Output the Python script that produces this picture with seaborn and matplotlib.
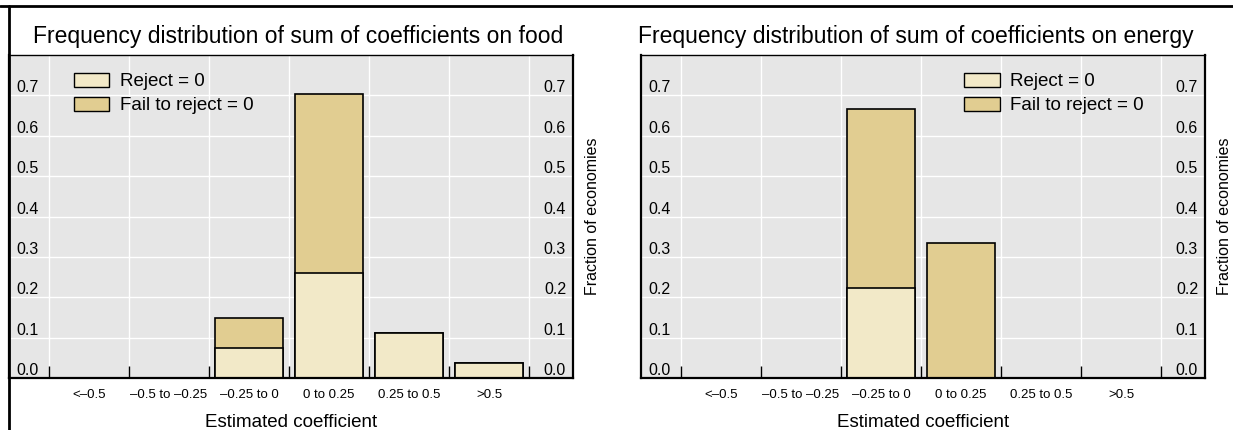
import numpy as np
import pandas as pd
import seaborn as sns
import matplotlib.pyplot as plt
from matplotlib.patches import Patch
from matplotlib.lines import Line2D

# categories and fractions of economies (27 economies)
categories = ['<\u20130.5', '\u20130.5 to \u20130.25', '\u20130.25 to 0', '0 to 0.25', '0.25 to 0.5', '>0.5']
food_reject = [0, 0, 2/27, 7/27, 3/27, 1/27]
food_fail = [0, 0, 2/27, 12/27, 0, 0]
energy_reject = [0, 0, 6/27, 0, 0, 0]
energy_fail = [0, 0, 12/27, 9/27, 0, 0]
titles = ['Frequency distribution of sum of coefficients on food',
          'Frequency distribution of sum of coefficients on energy']
ytick_vals = [0.0, 0.1, 0.2, 0.3, 0.4, 0.5, 0.6, 0.7]

c_reject = '#F2E9C8'
c_fail = '#E1CD91'
bg = '#E6E6E6'

sns.set_style('white')
plt.rcParams['font.family'] = ['Liberation Sans', 'DejaVu Sans']
for k in ['text.color', 'axes.labelcolor', 'xtick.color', 'ytick.color']:
    plt.rcParams[k] = 'black'

W, H = 1233, 430
fig = plt.figure(figsize=(W/100, H/100), dpi=100)
ax1 = fig.add_axes([9/W, 1-378/H, 564/W, 323/H])
ax2 = fig.add_axes([641/W, 1-378/H, 564/W, 323/H])

panels = [(ax1, food_reject, food_fail, 33, 0.115),
          (ax2, energy_reject, energy_fail, 638, 0.573)]

for i, (ax, rej, fail, title_x, leg_x) in enumerate(panels):
    df = pd.DataFrame({'category': categories,
                       'total': np.array(rej) + np.array(fail),
                       'reject': rej})
    # totals first (fail colour), then the reject part on top from zero
    sns.barplot(data=df, x='category', y='total', color=c_fail, saturation=1,
                edgecolor='black', linewidth=1.2, width=0.85, errorbar=None, ax=ax)
    sns.barplot(data=df, x='category', y='reject', color=c_reject, saturation=1,
                edgecolor='black', linewidth=1.2, width=0.85, errorbar=None, ax=ax)

    ax.set_facecolor(bg)
    ax.set_axisbelow(True)
    ax.set_xlim(-1.0, 6.05)
    ax.set_ylim(0, 0.8)

    # x: boundaries as major ticks (grid), labels on minor ticks
    ax.set_xticks(np.arange(-0.5, 6, 1))
    ax.set_xticklabels([])
    ax.set_xticks(np.arange(len(categories)), minor=True)
    ax.set_xticklabels(categories, minor=True, fontsize=9.5)
    ax.tick_params(axis='x', which='major', bottom=True, direction='in', length=9,
                   width=1, color='black')
    ax.tick_params(axis='x', which='minor', bottom=True, length=0, pad=8)

    ax.set_yticks(np.arange(0, 0.81, 0.1))
    ax.set_yticklabels(['%.1f' % v for v in ytick_vals] + [''])
    ax.tick_params(axis='y', length=0, labelleft=True, labelright=True, labelsize=11.5, pad=-5)
    for t in ax.yaxis.get_major_ticks():
        t.label1.set_ha('left')
        t.label1.set_va('bottom')
        t.label2.set_ha('right')
        t.label2.set_va('bottom')

    ax.grid(True, which='major', color='white', linewidth=1.0)

    for side, sp in ax.spines.items():
        sp.set_visible(True)
        sp.set_color('black')
        sp.set_linewidth(1.0 if side == 'top' else 1.6)

    ax.set_xlabel('Estimated coefficient', fontsize=13.5, labelpad=9)
    ax.set_ylabel('Fraction of economies', fontsize=11.5, labelpad=8.5)
    ax.yaxis.set_label_position('right')
    fig.text(title_x/W, 1-43/H, titles[i], fontsize=16.5, ha='left', va='baseline')

    handles = [Patch(facecolor=c_reject, edgecolor='black', linewidth=1),
               Patch(facecolor=c_fail, edgecolor='black', linewidth=1)]
    ax.legend(handles, ['Reject = 0', 'Fail to reject = 0'], loc='upper left',
              bbox_to_anchor=(leg_x, 0.945), frameon=False, fontsize=13.5,
              handlelength=1.9, handleheight=0.78, handletextpad=0.55,
              labelspacing=0.35, borderaxespad=0, borderpad=0)

# frame lines at the top and left of the figure
fig.add_artist(Line2D([0, 1], [1-6/H, 1-6/H], transform=fig.transFigure, color='black', linewidth=2))
fig.add_artist(Line2D([9/W, 9/W], [0, 1-6/H], transform=fig.transFigure, color='black', linewidth=2))

fig.savefig('out.png', dpi=100)
